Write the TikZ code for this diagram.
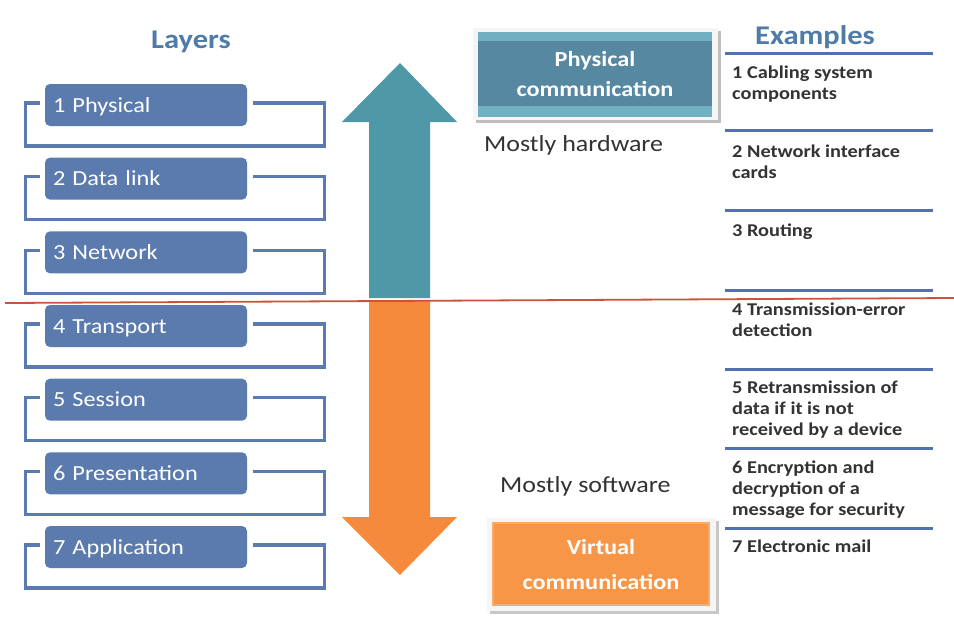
\documentclass[tikz,border=0pt]{standalone}
\usepackage{fontspec}
\setmainfont{Carlito}[FakeStretch=1.13]
\usetikzlibrary{calc}
\definecolor{layerblue}{HTML}{5B7BAE}
\definecolor{titleblue}{HTML}{4F7BA7}
\definecolor{tealarrow}{HTML}{4E98A8}
\definecolor{orangearrow}{HTML}{F58A3C}
\definecolor{physlight}{HTML}{70B0C2}
\definecolor{physdark}{HTML}{5688A1}
\definecolor{virtorange}{HTML}{F79646}
\definecolor{exblue}{HTML}{5470B4}
\definecolor{redline}{HTML}{C9533B}
\definecolor{textgray}{HTML}{333333}
\tikzset{
  layerbox/.style={fill=layerblue, rounded corners=5pt, inner xsep=8pt, inner ysep=0pt,
    text width=186pt, align=left, minimum height=42pt, text height=14pt, text depth=0pt,
    text=white, font=\fontsize{21.5}{26}\selectfont},
  bracket/.style={draw=layerblue, line width=3.2pt},
  exline/.style={draw=exblue, line width=3pt},
  extext/.style={anchor=base west, inner sep=0pt, text=textgray,
    font=\fontsize{18}{21}\selectfont\bfseries},
  title/.style={anchor=base, inner sep=0pt, text=titleblue, font=\fontsize{27}{32}\selectfont\bfseries},
  mostly/.style={anchor=base west, inner sep=0pt, text=textgray, font=\fontsize{23}{28}\selectfont},
  boxtext/.style={anchor=base, inner sep=0pt, text=white, font=\fontsize{21.5}{30}\selectfont\bfseries}
}
\begin{document}
\begin{tikzpicture}[x=1pt, y=-1pt]
\useasboundingbox (0,0) rectangle (954,622);
\fill[white] (0,0) rectangle (954,622);

% titles
\node[title] (layers) at (191,48) {Layers};
\node[title] (examples) at (815,44) {Examples};

% layers
\foreach \i/\t in {1/1 Physical, 2/2 Data link, 3/3 Network, 4/4 Transport, 5/5 Session, 6/6 Presentation, 7/7 Application} {
  \node[layerbox] (L\i) at (146, {105+73.67*(\i-1)}) {\t};
  \draw[bracket] ($(L\i.west)+(-5,-2)$) -- ++(-14,0) -- ++(0,43) -- ++(299,0) -- ++(0,-43) -- ++(-72,0);
}

% arrows
\fill[tealarrow] (369,298) -- (369,122) -- (342,122) -- (400,63) -- (457,122) -- (430,122) -- (430,298) -- cycle;
\fill[orangearrow] (369,300) -- (369,517) -- (342,517) -- (400,575) -- (457,517) -- (430,517) -- (430,300) -- cycle;

% red divider
\draw[redline, line width=1.8pt] (5,303) -- (954,298);

% physical communication box
\fill[black!25] (476,31) rectangle (721,123);
\fill[white!96!black] (473,28) rectangle (718,120);
\fill[physlight] (478,32) rectangle (712,117);
\fill[physdark] (478,41) rectangle (712,106);
\node[boxtext] (phys) at (595,66) {\begin{tabular}[t]{@{}c@{}}Physical\\communication\end{tabular}};
\node[mostly] (hw) at (484,151) {Mostly hardware};

% virtual communication box
\fill[black!22] (490,521) rectangle (719,614);
\fill[white!96!black] (487,518) rectangle (716,611);
\fill[virtorange!80!white] (492,522) rectangle (710,606);
\fill[virtorange] (494,524) rectangle (708,604);
\node[boxtext] (virt) at (601,554) {\begin{tabular}[t]{@{}c@{}}Virtual\\[5pt]communication\end{tabular}};
\node[mostly] (sw) at (500,492) {Mostly software};

% example lines
\foreach \y in {53,130,210,290,369,448,528} {
  \draw[exline] (725,\y) -- (933,\y);
}

% example texts
\node[extext] (e1) at (732,78) {\begin{tabular}[t]{@{}l@{}}1 Cabling system\\components\end{tabular}};
\node[extext] (e2) at (732,157) {\begin{tabular}[t]{@{}l@{}}2 Network interface\\cards\end{tabular}};
\node[extext] (e3) at (732,236) {3 Routing};
\node[extext] (e4) at (732,315) {\begin{tabular}[t]{@{}l@{}}4 Transmission-error\\detection\end{tabular}};
\node[extext] (e5) at (732,393) {\begin{tabular}[t]{@{}l@{}}5 Retransmission of\\data if it is not\\received by a device\end{tabular}};
\node[extext] (e6) at (732,473) {\begin{tabular}[t]{@{}l@{}}6 Encryption and\\decryption of a\\message for security\end{tabular}};
\node[extext] (e7) at (732,552) {7 Electronic mail};
\end{tikzpicture}
\end{document}
